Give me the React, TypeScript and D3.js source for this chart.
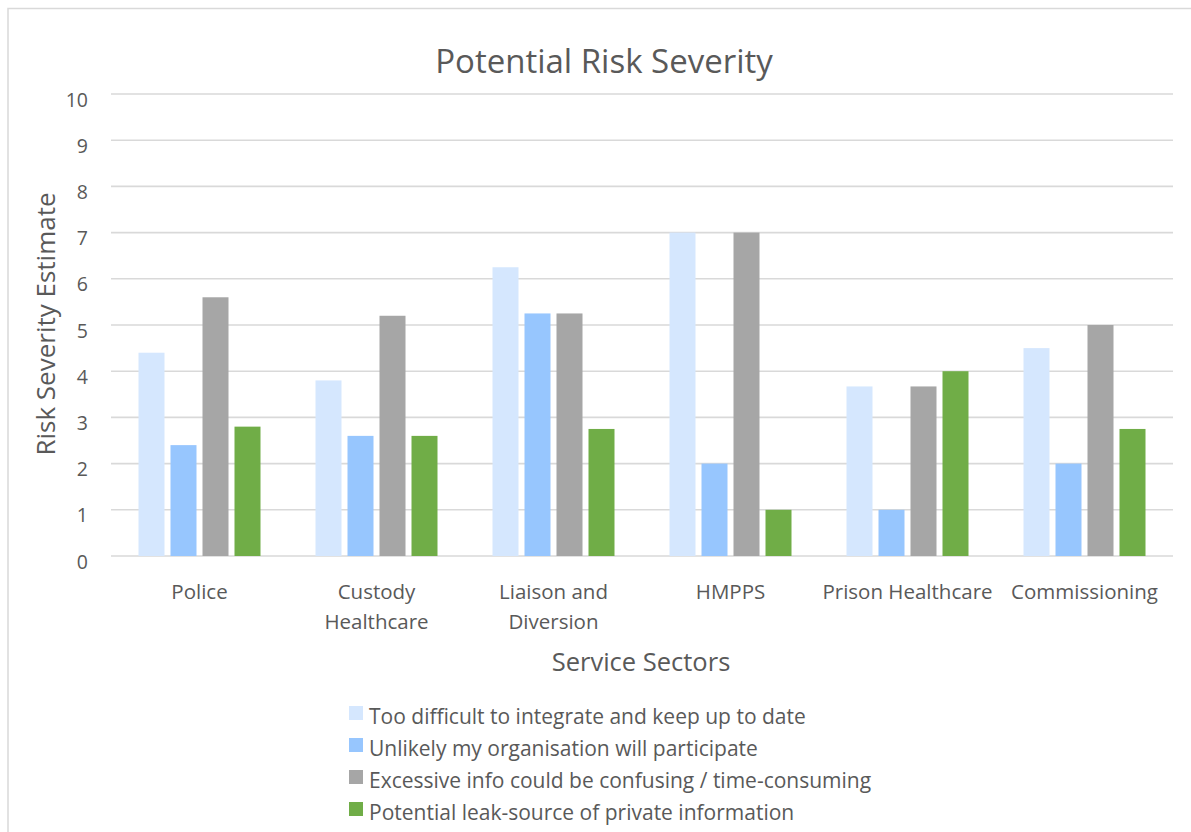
import React from "react";
import * as d3 from "d3";

const categories: string[][] = [
  ["Police"],
  ["Custody", "Healthcare"],
  ["Liaison and", "Diversion"],
  ["HMPPS"],
  ["Prison Healthcare"],
  ["Commissioning"],
];
const seriesNames = [
  "Too difficult to integrate and keep up to date",
  "Unlikely my organisation will participate",
  "Excessive info could be confusing / time-consuming",
  "Potential leak-source of private information",
];
const tooDifficult = [4.4, 3.8, 6.25, 7, 3.67, 4.5];
const unlikely = [2.4, 2.6, 5.25, 2, 1, 2];
const excessive = [5.6, 5.2, 5.25, 7, 3.67, 5];
const leak = [2.8, 2.6, 2.75, 1, 4, 2.75];
const seriesValues = [tooDifficult, unlikely, excessive, leak];
const colors = ["#D5E7FE", "#97C6FE", "#A6A6A6", "#70AD47"];
const yTicks = [0, 1, 2, 3, 4, 5, 6, 7, 8, 9, 10];

const FONT = "'Open Sans', sans-serif";
const TEXT = "#595959";

export default function App() {
  const W = 1191;
  const H = 832;
  const left = 111;
  const right = 1173;
  const top = 94;
  const bottom = 556;

  const catKeys = categories.map((c) => c.join(" "));
  const x0 = d3.scaleBand<string>().domain(catKeys).range([left, right]);
  const bw = x0.bandwidth();
  const groupW = 122;
  const x1 = d3
    .scaleBand<number>()
    .domain([0, 1, 2, 3])
    .range([(bw - groupW) / 2, (bw + groupW) / 2])
    .paddingInner(6 / 32);
  const y = d3.scaleLinear().domain([0, 10]).range([bottom, top]);

  return (
    <svg
      width={W}
      height={H}
      style={{ position: "absolute", left: 0, top: 0, background: "#fff" }}
      fontFamily={FONT}
    >
      <rect x={8} y={8.5} width={W + 20} height={H + 20} fill="#fff" stroke="#D9D9D9" strokeWidth={1.5} />
      <text x={604} y={73} textAnchor="middle" fontSize={33} fill={TEXT}>
        Potential Risk Severity
      </text>
      {yTicks.map((t) => (
        <g key={t}>
          <line x1={left} x2={right} y1={y(t)} y2={y(t)} stroke="#D9D9D9" strokeWidth={1.6} />
          <text x={88} y={y(t) + 12.5} textAnchor="end" fontSize={19.5} fill={TEXT}>
            {t}
          </text>
        </g>
      ))}
      {seriesValues.map((vals, si) =>
        vals.map((v, ci) => (
          <rect
            key={si + "-" + ci}
            x={(x0(catKeys[ci]) as number) + (x1(si) as number)}
            y={y(v)}
            width={x1.bandwidth()}
            height={bottom - y(v)}
            fill={colors[si]}
          />
        ))
      )}
      {categories.map((lines, ci) => (
        <text
          key={ci}
          x={(x0(catKeys[ci]) as number) + bw / 2}
          y={599}
          textAnchor="middle"
          fontSize={20.5}
          fill={TEXT}
        >
          {lines.map((l, li) => (
            <tspan key={li} x={(x0(catKeys[ci]) as number) + bw / 2} dy={li === 0 ? 0 : 30}>
              {l}
            </tspan>
          ))}
        </text>
      ))}
      <text x={641} y={671} textAnchor="middle" fontSize={25.5} fill={TEXT}>
        Service Sectors
      </text>
      <text
        transform={`translate(55, 324) rotate(-90)`}
        textAnchor="middle"
        fontSize={26}
        fill={TEXT}
      >
        Risk Severity Estimate
      </text>
      {seriesNames.map((name, i) => (
        <g key={name} transform={`translate(349, ${706 + i * 32})`}>
          <rect x={0} y={0} width={14} height={14} fill={colors[i]} />
          <text x={20} y={18} fontSize={21} fill={TEXT}>
            {name}
          </text>
        </g>
      ))}
    </svg>
  );
}
